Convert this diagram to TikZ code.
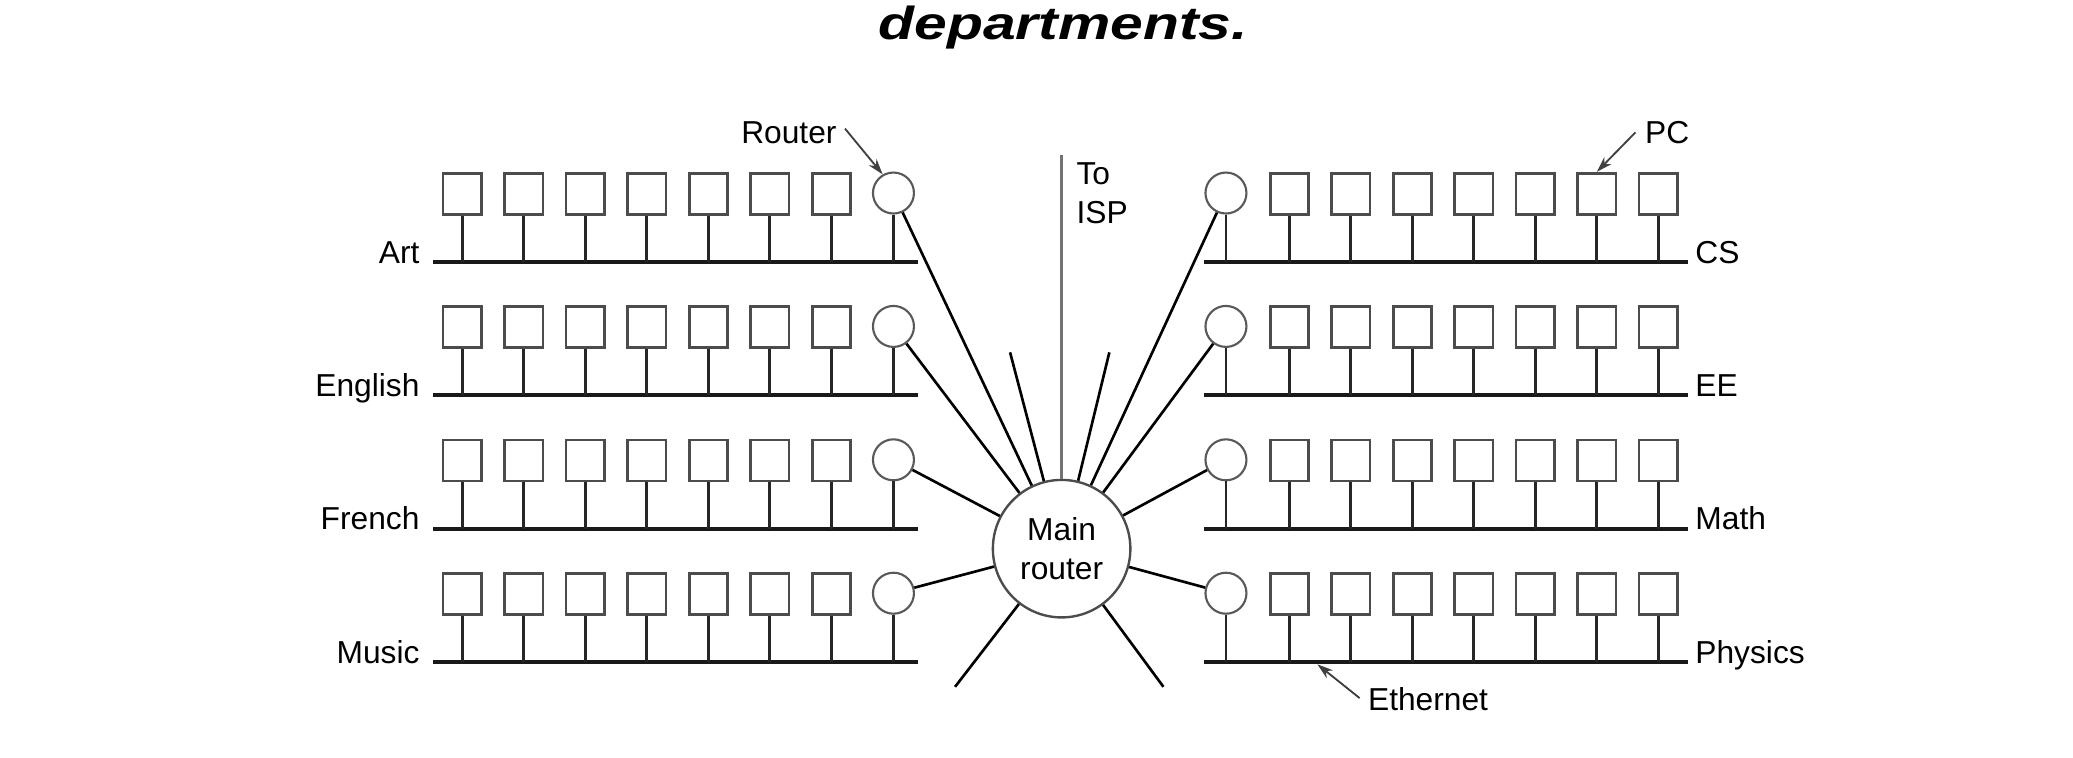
\documentclass[tikz,border=0pt]{standalone}
\usepackage{fontspec}
\setmainfont{Liberation Sans}
\usetikzlibrary{arrows.meta,calc}
\begin{document}
\begin{tikzpicture}[x=0.5pt,y=-0.5pt,
  pc/.style={draw=black!70, line width=1pt, minimum width=14.5pt, minimum height=15.5pt, inner sep=0pt, fill=white},
  rtr/.style={circle, draw=black!65, line width=0.8pt, minimum size=15.5pt, inner sep=0pt},
  bus/.style={line width=1.5pt, draw=black!90},
  stem/.style={line width=1.1pt, draw=black!85},
  link/.style={line width=1pt, draw=black},
  lbl/.style={font=\fontsize{12}{14.75}\selectfont, inner sep=0pt},
  callout/.style={line width=0.7pt, draw=black!75, -{Stealth[length=6pt,width=3.8pt]}},
]
\useasboundingbox (0,0) rectangle (1568,573.3);

% title
\node[font=\fontsize{17.5}{20}\selectfont\bfseries\itshape, anchor=base, inner sep=0pt] (title) at (804.2,29.7) {\scalebox{1.27}[1]{departments.}};

% left departments
\foreach \n/\lab [count=\i from 0] in {art/Art, english/English, french/French, music/Music} {
  \pgfmathsetmacro{\by}{198+100.9*\i}
  \coordinate (\n-BusL) at (327.4,\by);
  \coordinate (\n-BusR) at (694,\by);
  \draw[bus] (\n-BusL) -- (\n-BusR);
  \node[lbl, anchor=base east] (\n-Lab) at (317.7,\by+1) {\lab};
  \foreach \k in {1,...,7} {
    \node[pc] (\n-P\k) at ({349.6+46.55*(\k-1)},\by-51.5) {};
    \draw[stem] (\n-P\k.south) -- (\n-P\k.south |- \n-BusL);
  }
  \node[rtr] (\n-R) at (675.8,\by-52) {};
  \draw[stem] (\n-R.south) -- (\n-R.south |- \n-BusL);
}

% right departments
\foreach \n/\lab [count=\i from 0] in {cs/CS, ee/EE, math/Math, physics/Physics} {
  \pgfmathsetmacro{\by}{198+100.9*\i}
  \coordinate (\n-BusL) at (910.5,\by);
  \coordinate (\n-BusR) at (1277,\by);
  \draw[bus] (\n-BusL) -- (\n-BusR);
  \node[lbl, anchor=base west] (\n-Lab) at (1282,\by+1) {\lab};
  \foreach \k in {1,...,7} {
    \node[pc] (\n-P\k) at ({975.3+46.5*(\k-1)},\by-51.5) {};
    \draw[stem] (\n-P\k.south) -- (\n-P\k.south |- \n-BusL);
  }
  \node[rtr] (\n-R) at (927.3,\by-52) {};
  \draw[stem] (\n-R.south) -- (\n-R.south |- \n-BusL);
}

% main router
\node[lbl, circle, draw=black!70, line width=0.9pt, minimum size=52pt, inner sep=0pt, align=center] (main) at (803,415) {Main\\router};

\foreach \n in {art,english,french,music,cs,ee,math,physics}
  \draw[link] (main) -- (\n-R);

% to ISP
\coordinate (isp) at (803,117.3);
\draw[line width=1.3pt, draw=black!55] (isp) -- (main);
\node[lbl, anchor=north west, align=left] (ispLab) at (813.9,122.8) {To\\ISP};

% stubs
\coordinate (s1) at (764,266.5);
\coordinate (s2) at (839.1,266.5);
\coordinate (s3) at (722.4,519.5);
\coordinate (s4) at (880,519.5);
\foreach \s in {s1,s2,s3,s4}
  \draw[link] (main) -- (\s);

% callouts
\node[lbl, anchor=base west] (routerLab) at (560.3,108.4) {Router};
\draw[callout] ([shift={(6,-3)}]routerLab.east) -- (art-R.120);

\node[lbl, anchor=base west] (pcLab) at (1244,108.4) {PC};
\draw[callout] ([shift={(-7,0)}]pcLab.west) -- (cs-P6.north);

\node[lbl, anchor=base west] (ethLab) at (1034.4,537.6) {Ethernet};
\coordinate (ethTip) at (996.5,502.5);
\draw[callout] ([shift={(-6,-1)}]ethLab.west) -- (ethTip);

\end{tikzpicture}
\end{document}
